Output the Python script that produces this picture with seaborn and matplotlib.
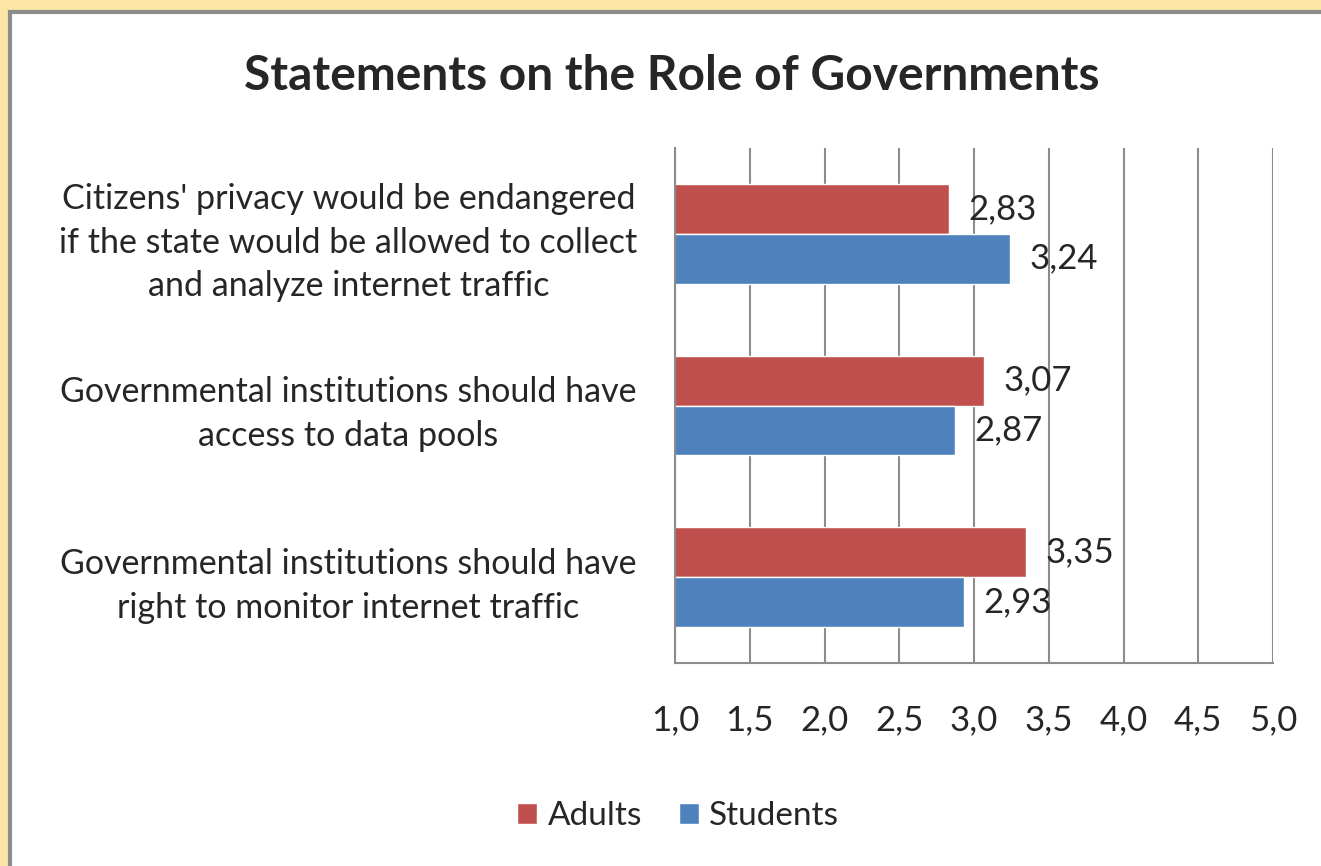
import numpy as np
import pandas as pd
import matplotlib
matplotlib.use("Agg")
import matplotlib.pyplot as plt
from matplotlib.patches import Rectangle
import seaborn as sns

# data ---------------------------------------------------------
statements = [
    "Citizens' privacy would be endangered\nif the state would be allowed to collect\nand analyze internet traffic",
    "Governmental institutions should have\naccess to data pools",
    "Governmental institutions should have\nright to monitor internet traffic",
]
groups = ["Adults", "Students"]
adults = [2.83, 3.07, 3.35]
students = [3.24, 2.87, 2.93]
x_ticks = [1.0, 1.5, 2.0, 2.5, 3.0, 3.5, 4.0, 4.5, 5.0]

colors = {"Adults": "#C0504D", "Students": "#4F81BD"}

df = pd.DataFrame({
    "statement": statements * 2,
    "group": ["Adults"] * 3 + ["Students"] * 3,
    "score": adults + students,
})

sns.set_style("white")
plt.rcParams["font.family"] = ["Lato", "DejaVu Sans"]

fig = plt.figure(figsize=(13.21, 8.66), dpi=100)
fig.patch.set_facecolor("#FCE6A6")
# white panel with grey frame
fig.add_artist(Rectangle((10 / 1321, -0.05), 1.1, 1 - 12 / 866 + 0.05,
                         transform=fig.transFigure, facecolor="white",
                         edgecolor="#8C8C8C", linewidth=3, zorder=0))

ax = fig.add_axes([675 / 1321, 1 - 663 / 866, (1273 - 675) / 1321, (663 - 148) / 866])
ax.set_facecolor("none")

sns.barplot(data=df, y="statement", x="score", hue="group", order=statements,
            hue_order=groups, palette=colors, orient="h", width=0.58,
            saturation=1, ax=ax, legend=True)

ax.set_xlim(1.0, 5.0)
ax.set_ylim(2.5, -0.5)
ax.set_xticks(x_ticks)
ax.set_xticklabels([f"{t:.1f}".replace(".", ",") for t in x_ticks], fontsize=25)
ax.tick_params(axis="x", length=10, width=1.5, color="#8C8C8C", pad=20, direction="out")
ax.set_yticks(range(len(statements)))
ax.set_yticklabels(statements, fontsize=24.5, ha="center", linespacing=1.45)
ax.tick_params(axis="y", length=0, pad=235)
ax.set_yticks([-0.5, 0.5, 1.5, 2.5], minor=True)
ax.tick_params(axis="y", which="minor", length=10, width=1.5, color="#8C8C8C", direction="out")

ax.grid(axis="x", color="#8C8C8C", linewidth=1.5)
ax.set_axisbelow(True)
for s in ["top", "right"]:
    ax.spines[s].set_visible(False)
for s in ["left", "bottom"]:
    ax.spines[s].set_color("#8C8C8C")
    ax.spines[s].set_linewidth(1.5)
ax.set_xlabel("")
ax.set_ylabel("")

# value labels
for cont in ax.containers:
    labels = [f"{b.get_width():.2f}".replace(".", ",") for b in cont]
    ax.bar_label(cont, labels=labels, padding=14, fontsize=25)

ax.legend(loc="center", bbox_to_anchor=(678 / 1321, 50 / 866),
          bbox_transform=fig.transFigure, ncol=2, frameon=False, fontsize=24,
          handlelength=0.6, handleheight=0.6, handletextpad=0.3, columnspacing=1.1)

fig.text(672 / 1321, 1 - 76 / 866, "Statements on the Role of Governments",
         ha="center", va="center", fontsize=34.5, fontweight="bold")

fig.savefig("out.png", dpi=100, facecolor=fig.get_facecolor())
